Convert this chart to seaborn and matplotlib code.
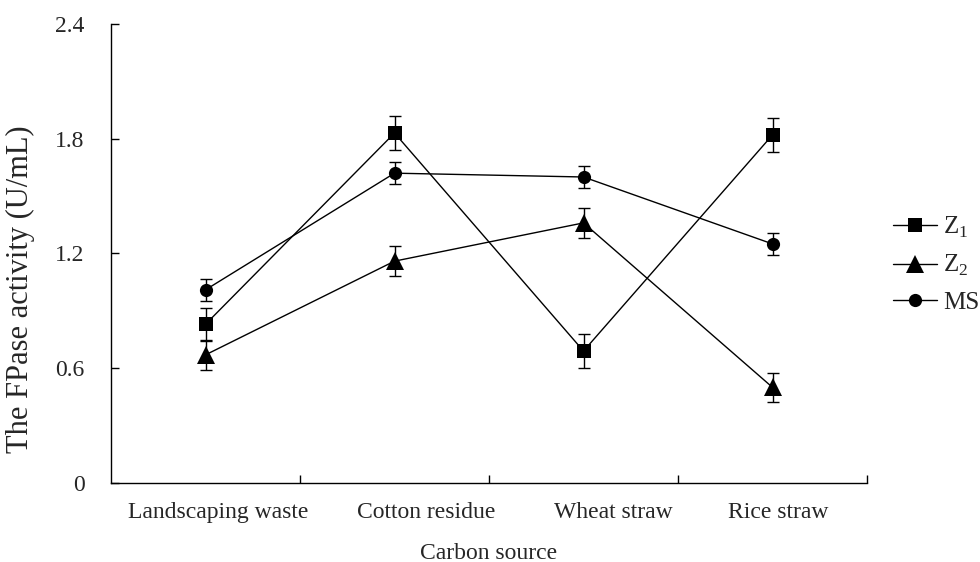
import numpy as np
import pandas as pd
import matplotlib
matplotlib.use("Agg")
import matplotlib.pyplot as plt
from matplotlib.lines import Line2D
from matplotlib.transforms import ScaledTranslation
import seaborn as sns

categories = ["Landscaping waste", "Cotton residue", "Wheat straw", "Rice straw"]
z1_mean = [0.83, 1.83, 0.69, 1.82]
z1_err = [0.085, 0.087, 0.087, 0.087]
z2_mean = [0.67, 1.16, 1.36, 0.50]
z2_err = [0.078, 0.078, 0.077, 0.077]
ms_mean = [1.01, 1.62, 1.60, 1.25]
ms_err = [0.056, 0.057, 0.057, 0.057]
series_names = ["Z1", "Z2", "MS"]
y_ticks = [0, 0.6, 1.2, 1.8, 2.4]
y_tick_labels = ["0", "0.6", "1.2", "1.8", "2.4"]

sns.set_theme(style="white")
plt.rcParams["font.family"] = ["Liberation Serif", "DejaVu Serif"]
plt.rcParams["mathtext.fontset"] = "custom"
plt.rcParams["mathtext.rm"] = "Liberation Serif"

pos = list(range(len(categories)))
rows = []
for name, means, errs in zip(series_names, [z1_mean, z2_mean, ms_mean], [z1_err, z2_err, ms_err]):
    for p, m, e in zip(pos, means, errs):
        rows.append({"pos": p, "value": m, "err": e, "series": name})
df = pd.DataFrame(rows)

fig = plt.figure(figsize=(9.8, 5.62), dpi=100)
ax = fig.add_axes([0.1133, 0.1406, 0.8847 - 0.1133, 0.9573 - 0.1406])

markers = {"Z1": "s", "Z2": "^", "MS": "o"}
msizes = {"Z1": 9.5, "Z2": 12.5, "MS": 9.5}

for name in series_names:
    sub = df[df["series"] == name]
    ax.errorbar(sub["pos"], sub["value"], yerr=sub["err"], fmt="none",
                ecolor="black", elinewidth=1.0, capsize=4.6, capthick=1.0, zorder=2)

for name in series_names:
    sub = df[df["series"] == name]
    sns.lineplot(data=sub, x="pos", y="value", marker=markers[name], color="black",
                 errorbar=None, linewidth=1.0, markersize=msizes[name],
                 markeredgewidth=0, legend=False, ax=ax, zorder=3)

ax.set_xlim(-0.5, len(categories) - 0.5)
ax.set_ylim(0, 2.4)
ax.set_yticks(y_ticks)
ax.set_yticklabels(y_tick_labels)
ax.set_xticks(pos)
ax.set_xticklabels(categories)
ax.set_xticks([p + 0.5 for p in pos], minor=True)
ax.tick_params(axis="x", which="major", length=0, labelsize=17, pad=14)
ax.tick_params(axis="x", which="minor", direction="in", length=6, width=1, color="black", bottom=True)
ax.tick_params(axis="y", which="major", direction="in", length=6, width=1, color="black",
               labelsize=17, pad=19, left=True)
for s in ["top", "right"]:
    ax.spines[s].set_visible(False)
for s in ["left", "bottom"]:
    ax.spines[s].set_color("black")
    ax.spines[s].set_linewidth(1.0)

# small horizontal offsets of the category labels, as in the reference layout
label_shift_px = [13, 32, 30, 6]
for lab, dx in zip(ax.get_xticklabels(), label_shift_px):
    lab.set_transform(lab.get_transform() + ScaledTranslation(dx / 100, 0, fig.dpi_scale_trans))

ax.set_xlabel("Carbon source", fontsize=17, labelpad=14)
ax.set_ylabel("The FPase activity (U/mL)", fontsize=22)
ax.yaxis.set_label_coords(-0.1, 0.4216)

handles = [Line2D([0], [0], color="black", lw=1.0, marker=markers[n], markersize=msizes[n],
                  markeredgewidth=0) for n in series_names]
labels = [r"Z$_\mathregular{1}$", r"Z$_\mathregular{2}$", "MS"]
ax.legend(handles, labels, loc="center left", bbox_to_anchor=(1.021, 0.476),
          borderaxespad=0, frameon=False, fontsize=18, handlelength=1.76,
          handletextpad=0.24, labelspacing=0.52)

fig.savefig("out.png", dpi=100, facecolor="white")
